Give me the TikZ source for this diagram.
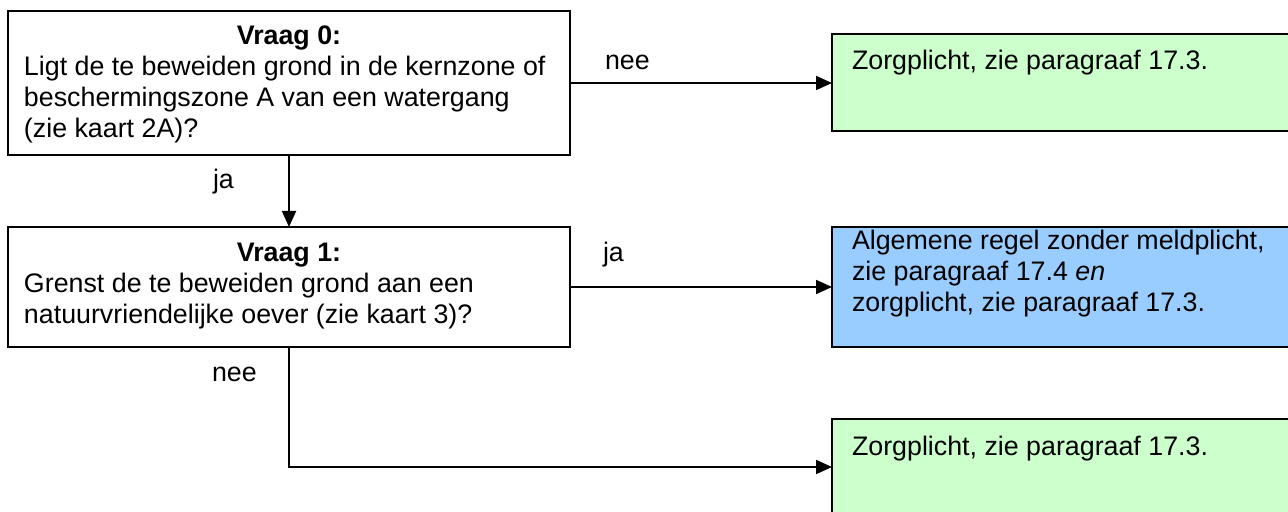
\documentclass[tikz,border=0pt]{standalone}
\usepackage{fontspec}
\setmainfont{Liberation Sans}
\usetikzlibrary{arrows.meta,calc}
\definecolor{lightgreen}{HTML}{CCFFCC}
\definecolor{lightblue}{HTML}{99CCFF}
\tikzset{
  box/.style={draw=black, line width=1.1pt, inner sep=0pt, outer sep=0pt, anchor=north west},
  qbox/.style={box, fill=white, minimum width=281pt, minimum height=72pt},
  rbox/.style={box, minimum width=234pt},
  txt/.style={inner sep=0pt, outer sep=0pt, anchor=base west, font=\fontsize{13.4pt}{15.5pt}\selectfont},
  lbl/.style={txt},
  arr/.style={line width=0.9pt, -{Triangle[length=8pt,width=7pt]}}
}
\begin{document}
\begin{tikzpicture}[x=0.5pt,y=-0.5pt]
\useasboundingbox (0,0) rectangle (1288,512);
\clip (0,0) rectangle (1288,512);
% boxes
\node[qbox] (b0) at (8,11) {};
\node[qbox, minimum height=60pt] (b1) at (8,227) {};
\node[rbox, fill=lightgreen, minimum height=48.5pt] (g1) at (832,34) {};
\node[rbox, fill=lightblue, minimum height=60pt] (bl) at (832,227) {};
\node[rbox, fill=lightgreen, minimum height=48pt] (g2) at (832,419) {};
% texts
\node[txt, anchor=base] (t0a) at ($(b0.north)+(0,34)$) {\bfseries Vraag 0:};
\node[txt] (t0b) at ($(b0.north west)+(16,65)$) {\parbox[t]{280pt}{\raggedright Ligt de te beweiden grond in de kernzone of\\beschermingszone A van een watergang\\(zie kaart 2A)?}};
\node[txt, anchor=base] (t1a) at ($(b1.north)+(0,35)$) {\bfseries Vraag 1:};
\node[txt] (t1b) at ($(b1.north west)+(16,66)$) {\parbox[t]{280pt}{\raggedright Grenst de te beweiden grond aan een\\natuurvriendelijke oever (zie kaart 3)?}};
\node[txt] (tg1) at ($(g1.north west)+(20,36)$) {Zorgplicht, zie paragraaf 17.3.};
\node[txt] (tbl) at ($(bl.north west)+(20,23)$) {\parbox[t]{230pt}{\raggedright Algemene regel zonder meldplicht,\\zie paragraaf 17.4 \textit{en}\\zorgplicht, zie paragraaf 17.3.}};
\node[txt] (tg2) at ($(g2.north west)+(20,36)$) {Zorgplicht, zie paragraaf 17.3.};
% connectors
\draw[arr] (b0.east) -- (g1.west |- b0.east);
\draw[arr] (b0.south) -- (b1.north);
\draw[arr] (b1.east) -- (bl.west);
\draw[arr] (b1.south) |- (g2.west);
% labels
\node[lbl] (l1) at (605,70) {nee};
\node[lbl] (l2) at (213,189) {ja};
\node[lbl] (l3) at (603,262) {ja};
\node[lbl] (l4) at (212,382) {nee};
\end{tikzpicture}
\end{document}
